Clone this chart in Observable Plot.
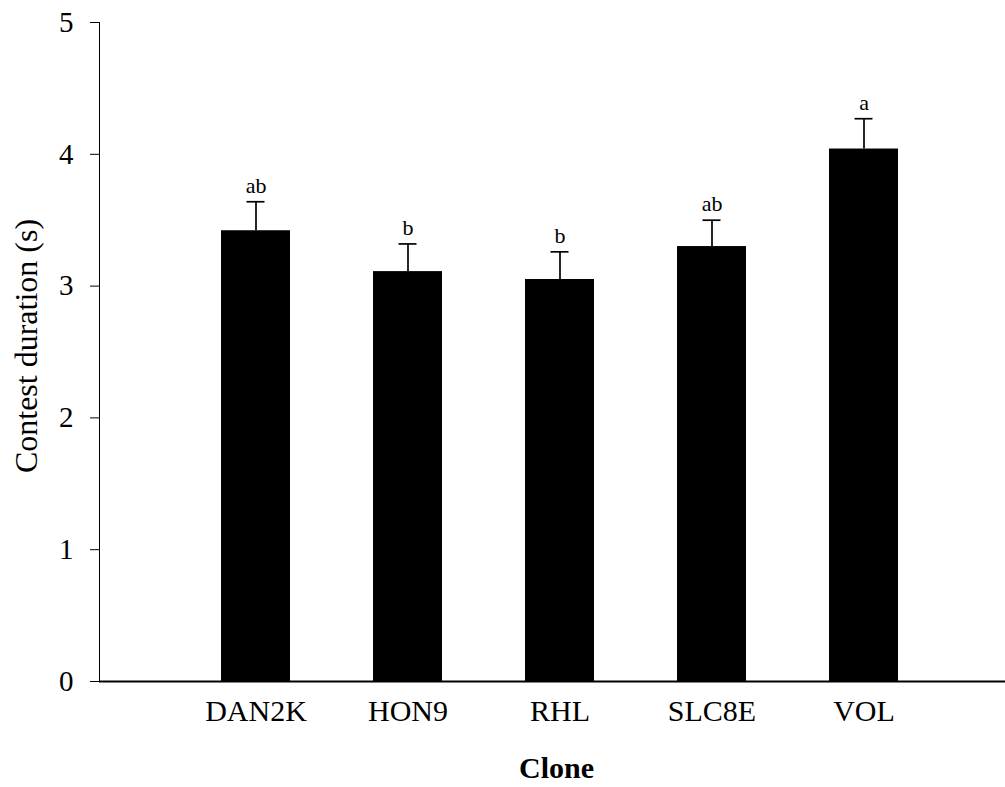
<!DOCTYPE html>
<html>
<head>
<meta charset="utf-8">
<script src="https://cdn.jsdelivr.net/npm/d3@7"></script>
<script src="https://cdn.jsdelivr.net/npm/@observablehq/plot@0.6"></script>
<style>
  html, body { margin: 0; padding: 0; background: #fff; }
  #chart svg { display: block; }
  #chart svg, #chart svg text { font-family: 'Liberation Serif', 'Times New Roman', Times, serif !important; }
</style>
</head>
<body>
<div id="chart"></div>
<script>
const clones = ["DAN2K", "HON9", "RHL", "SLC8E", "VOL"];
const means = [3.42, 3.11, 3.05, 3.30, 4.04];
const errors = [0.22, 0.21, 0.21, 0.20, 0.23];
const letters = ["ab", "b", "b", "ab", "a"];
const yTicks = [0, 1, 2, 3, 4, 5];

const data = clones.map((c, i) => ({
  clone: c,
  mean: means[i],
  upper: means[i] + errors[i],
  letter: letters[i]
}));

const font = "'Liberation Serif', 'Times New Roman', Times, serif";

const chart = Plot.plot({
  width: 1005,
  height: 787,
  marginLeft: 99,
  marginRight: 0,
  marginTop: 22,
  marginBottom: 106,
  style: { fontFamily: font, background: "#fff", color: "#000" },
  x: { domain: clones, range: [100, 1018], paddingInner: 0.547, paddingOuter: 0.788, axis: null },
  y: { domain: [0, 5], axis: null },
  marks: [
    Plot.barY(data, { x: "clone", y: "mean", fill: "#000" }),
    Plot.ruleX(data, { x: "clone", y1: "mean", y2: "upper", stroke: "#000", strokeWidth: 1.7 }),
    Plot.tickY(data, { x: "clone", y: "upper", stroke: "#000", strokeWidth: 1.7, insetLeft: 25.5, insetRight: 25.5 }),
    Plot.text(data, { x: "clone", y: "upper", text: "letter", dy: -16, fontSize: 22, fontFamily: font, fill: "#000" }),
    Plot.frame({ anchor: "left", stroke: "#000", strokeWidth: 1 }),
    Plot.ruleY([0], { stroke: "#000", strokeWidth: 2 }),
    Plot.axisY({ ticks: yTicks, tickSize: 9, tickPadding: 17, fontSize: 29, fontFamily: font, label: null, tickFormat: d => String(d) }),
    Plot.axisX({ tickSize: 0, tickPadding: 18, fontSize: 30, fontFamily: font, label: null }),
    Plot.text(["Clone"], { frameAnchor: "bottom", dx: 4, dy: 96, fontSize: 30, fontWeight: "bold", fontFamily: font, fill: "#000" }),
    Plot.text(["Contest duration (s)"], { frameAnchor: "left", textAnchor: "middle", dx: -73, dy: -6, rotate: -90, fontSize: 32, fontFamily: font, fill: "#000" })
  ]
});

document.getElementById("chart").appendChild(chart);
</script>
</body>
</html>
